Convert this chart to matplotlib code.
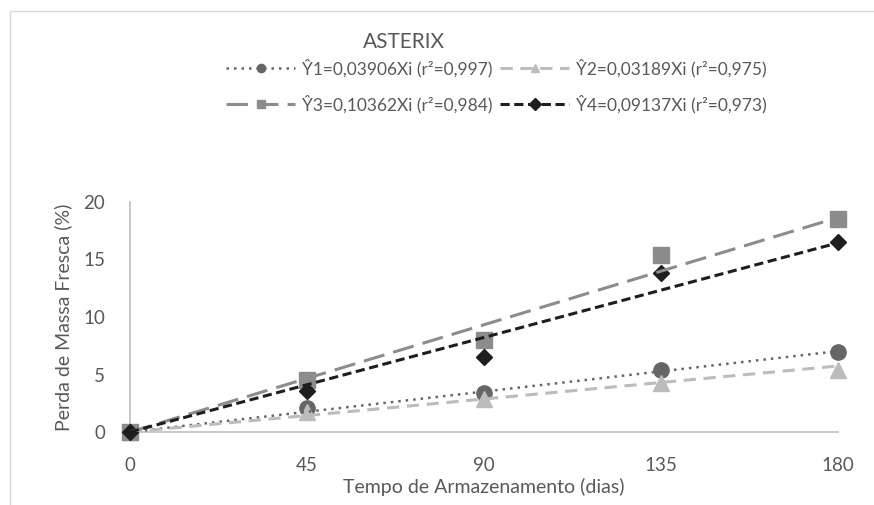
import matplotlib
matplotlib.use("Agg")
import numpy as np
import matplotlib.pyplot as plt
from matplotlib.lines import Line2D
from matplotlib.patches import Rectangle

# storage days
days = [0, 45, 90, 135, 180]

# observed fresh mass loss (%)
y1 = [0.0, 2.1, 3.4, 5.4, 7.0]
y2 = [0.0, 1.75, 2.9, 4.3, 5.4]
y3 = [0.0, 4.5, 8.0, 15.4, 18.5]
y4 = [0.0, 3.6, 6.5, 13.8, 16.5]

# regression slopes (through origin) and r2
slopes = [0.03906, 0.03189, 0.10362, 0.09137]
r2 = ["0,997", "0,975", "0,984", "0,973"]

title = "ASTERIX"
xlabel = "Tempo de Armazenamento (dias)"
ylabel = "Perda de Massa Fresca (%)"

plt.rcParams['font.family'] = ['Lato', 'DejaVu Sans']
text_color = '#595959'

fig = plt.figure(figsize=(8.74, 5.05), dpi=100)
ax = fig.add_axes([130 / 874, 1 - 432 / 505, 708 / 874, 230 / 505])

# light chart border (partly cut off in the original)
fig.patches.append(Rectangle((10 / 874, -0.1), 1.2, 1 - 11 / 505 + 0.1,
                             transform=fig.transFigure, fill=False,
                             edgecolor='#d9d9d9', lw=1.0))

series = [
    (y1, slopes[0], '#666666', 'o', 11, (0, (1, 2)), 1.8),
    (y2, slopes[1], '#bcbcbc', '^', 11, (0, (4, 2.5)), 2.2),
    (y3, slopes[2], '#8c8c8c', 's', 11, (0, (7, 3)), 2.2),
    (y4, slopes[3], '#1e1e1e', 'D', 8.5, (0, (3, 1.5)), 2.2),
]

x_line = np.array([days[0], days[-1]])
handles = []
for i, (vals, b, col, mk, ms, ls, lw) in enumerate(series):
    ax.plot(days, vals, linestyle='none', marker=mk, markersize=ms,
            color=col, clip_on=False, zorder=3)
    ax.plot(x_line, b * x_line, linestyle=ls, color=col, lw=lw, zorder=4)
    lab = "Ŷ%d=%sXi (r²=%s)" % (i + 1, ("%.5f" % b).replace('.', ','), r2[i])
    handles.append(Line2D([], [], linestyle=ls, color=col, lw=lw, marker=mk,
                          markersize=6, label=lab))

ax.set_xlim(0, 180)
ax.set_ylim(0, 20)
ax.set_xticks(days)
ax.set_yticks([0, 5, 10, 15, 20])
ax.tick_params(length=0, labelsize=13.5, colors=text_color)
ax.tick_params(axis='x', pad=18)
ax.tick_params(axis='y', pad=18)
for s in ['top', 'right']:
    ax.spines[s].set_visible(False)
for s in ['left', 'bottom']:
    ax.spines[s].set_color('#bfbfbf')
    ax.spines[s].set_linewidth(1.2)

ax.set_xlabel(xlabel, fontsize=14, color=text_color, labelpad=3)
ax.set_ylabel(ylabel, fontsize=14, color=text_color, labelpad=8)

fig.text(0.4625, 1 - 42 / 505, title, ha='center', va='center',
         fontsize=15, color=text_color)

order = [handles[0], handles[2], handles[1], handles[3]]
leg = fig.legend(handles=order, ncol=2, loc='center',
                 bbox_to_anchor=(0.568, 1 - 86 / 505), frameon=False,
                 handlelength=4.0, columnspacing=0.4,
                 handletextpad=0.4, labelspacing=1.0,
                 prop={'family': ['Lato', 'DejaVu Sans'], 'size': 12.5})
for t in leg.get_texts():
    t.set_color(text_color)

fig.savefig("out.png", dpi=100)
